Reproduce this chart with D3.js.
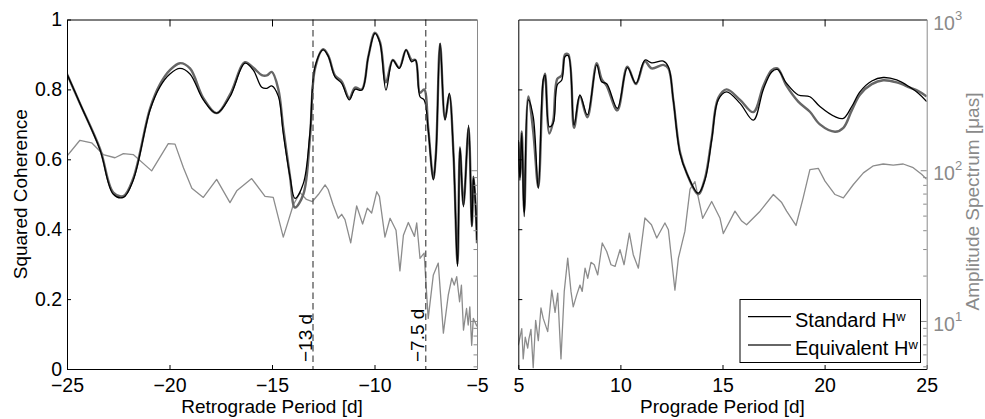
<!DOCTYPE html>
<html>
<head>
<meta charset="utf-8">
<script src="https://cdn.jsdelivr.net/npm/d3@7"></script>
<style>
  body { margin: 0; background: #fff; }
  svg { display: block; font-family: "Liberation Sans", Arial, Helvetica, sans-serif; }
</style>
</head>
<body>
<svg id="chart" width="985" height="419"></svg>
<script>
// ---- Retrograde band: squared coherence ----
const retroCohPeriod = [-25, -24.37, -23.39, -22.74, -22.25, -21.77, -20.95, -20.46, -19.98, -19.49, -19.0,
  -18.35, -17.7, -17.05, -16.32, -15.91, -15.5, -15.25, -15.01, -14.69, -14.45, -14.12, -13.88, -13.47,
  -13.15, -12.9, -12.5, -12.25, -11.93, -11.6, -11.23, -10.95, -10.62, -10.3, -9.98, -9.73, -9.44, -9.11,
  -8.79, -8.46, -8.19, -8.0, -7.78, -7.58, -7.38, -7.13, -7.0, -6.8, -6.56, -6.35, -6.15, -5.95, -5.83,
  -5.66, -5.41, -5.25, -5.17, -5.08, -5.0];
const retroStandard = [0.844, 0.76, 0.627, 0.50, 0.491, 0.54, 0.741, 0.808, 0.844, 0.86, 0.844,
  0.77, 0.732, 0.779, 0.875, 0.855, 0.806, 0.803, 0.81, 0.78, 0.674, 0.55, 0.488, 0.531,
  0.675, 0.865, 0.913, 0.894, 0.836, 0.817, 0.77, 0.80, 0.798, 0.894, 0.96, 0.932, 0.798, 0.884,
  0.86, 0.913, 0.879, 0.884, 0.779, 0.77, 0.684, 0.541, 0.617, 0.932, 0.712, 0.789, 0.617, 0.293, 0.636,
  0.464, 0.698, 0.407, 0.55, 0.48, 0.369];
const retroEquivalent = [0.844, 0.76, 0.63, 0.505, 0.495, 0.545, 0.745, 0.815, 0.855, 0.875, 0.86,
  0.775, 0.732, 0.785, 0.878, 0.862, 0.841, 0.84, 0.85, 0.80, 0.69, 0.55, 0.462, 0.50,
  0.66, 0.86, 0.915, 0.896, 0.84, 0.823, 0.775, 0.805, 0.80, 0.894, 0.962, 0.935, 0.82, 0.884,
  0.862, 0.913, 0.884, 0.884, 0.79, 0.80, 0.69, 0.545, 0.62, 0.93, 0.715, 0.785, 0.62, 0.30, 0.63,
  0.47, 0.69, 0.41, 0.55, 0.48, 0.36];

// ---- Retrograde band: amplitude spectrum [µas] ----
const retroSpecPeriod = [-25, -24.37, -23.8, -23.23, -22.66, -22.25, -21.77, -20.87, -20.06, -19.73, -19.32,
  -18.91, -18.35, -17.7, -17.05, -16.72, -15.99, -15.34, -14.94, -14.45, -13.96, -13.63, -13.32, -13.03,
  -12.74, -12.41, -12.26, -12.02, -11.77, -11.6, -11.44, -11.16, -10.87, -10.58, -10.35, -10.14, -9.89,
  -9.76, -9.49, -9.24, -8.95, -8.76, -8.59, -8.35, -8.05, -7.94, -7.78, -7.58, -7.38, -7.13, -6.89,
  -6.64, -6.4, -6.23, -6.11, -5.99, -5.85, -5.76, -5.66, -5.51, -5.43, -5.35, -5.26, -5.18, -5.0];
const retroSpectrum = [124, 158, 152, 127, 121, 129, 127, 99, 150, 149, 104,
  76, 66, 87, 61, 73, 88, 67, 66, 36, 59, 71, 64, 62,
  69, 80, 74.5, 59, 48, 51, 47, 33, 58, 44, 56, 52, 72,
  67, 36, 48, 40, 21.5, 37, 45, 36.4, 44.7, 26, 28.2, 10.4, 20.2, 24.2,
  8.3, 14.9, 19.2, 17.3, 19.7, 13.4, 17.3, 8.7, 12.1, 9.4, 12.4, 6.9, 10.4, 9.2];

// ---- Prograde band: squared coherence ----
const progCohPeriod = [5.0, 5.08, 5.17, 5.29, 5.49, 5.73, 5.98, 6.22, 6.31, 6.52, 6.71, 6.91, 7.13, 7.29,
  7.45, 7.73, 8.02, 8.38, 8.84, 9.08, 9.33, 9.85, 10.34, 10.76, 11.2, 11.53, 12.1, 12.35, 12.59,
  12.92, 13.25, 13.81, 14.14, 14.47, 14.79, 15.2, 15.86, 16.51, 17.0, 17.41, 17.69, 18.14, 18.71,
  19.28, 19.77, 20.51, 20.92, 21.33, 21.73, 22.31, 22.87, 23.53, 24.18, 24.59, 25.0];
const progStandard = [0.655, 0.54, 0.675, 0.436, 0.77, 0.722, 0.517, 0.827, 0.841, 0.693, 0.703, 0.813, 0.827, 0.894,
  0.896, 0.698, 0.784, 0.727, 0.87, 0.822, 0.816, 0.746, 0.862, 0.817, 0.884, 0.876, 0.881, 0.865, 0.77,
  0.617, 0.56, 0.503, 0.541, 0.655, 0.77, 0.793, 0.76, 0.712, 0.80, 0.85, 0.857, 0.817, 0.784,
  0.779, 0.751, 0.722, 0.717, 0.751, 0.793, 0.824, 0.834, 0.827, 0.806, 0.789, 0.765];
const progEquivalent = [0.65, 0.55, 0.68, 0.45, 0.78, 0.68, 0.52, 0.82, 0.845, 0.674, 0.71, 0.83, 0.84, 0.90,
  0.90, 0.69, 0.78, 0.72, 0.875, 0.83, 0.81, 0.74, 0.865, 0.815, 0.88, 0.86, 0.87, 0.86, 0.77,
  0.62, 0.56, 0.50, 0.545, 0.66, 0.775, 0.80, 0.77, 0.735, 0.81, 0.855, 0.86, 0.81, 0.765,
  0.736, 0.70, 0.679, 0.69, 0.74, 0.785, 0.815, 0.826, 0.82, 0.805, 0.795, 0.78];

// ---- Prograde band: amplitude spectrum [µas] ----
const progSpecPeriod = [5.0, 5.17, 5.24, 5.34, 5.46, 5.52, 5.62, 5.73, 5.85, 5.98, 6.11, 6.22, 6.44, 6.64,
  6.8, 6.93, 7.09, 7.25, 7.42, 7.58, 7.69, 7.86, 8.02, 8.13, 8.27, 8.4, 8.56, 8.72, 8.89, 9.11, 9.33,
  9.54, 9.74, 9.98, 10.18, 10.44, 10.63, 10.88, 11.2, 11.52, 11.78, 12.18, 12.35, 12.67, 12.84, 13.16,
  13.41, 13.65, 14.03, 14.47, 14.88, 15.04, 15.61, 15.94, 16.18, 16.84, 17.49, 17.9, 18.14, 18.6, 18.95,
  19.28, 19.69, 20.02, 20.51, 20.92, 21.41, 21.9, 22.39, 22.87, 23.36, 23.85, 24.34, 24.75, 25.0];
const progSpectrum = [6.9, 8.9, 5.6, 7.8, 6.6, 7.6, 8.8, 4.9, 10.1, 7.4, 12.2, 10.4, 8.5, 16,
  11.4, 15.3, 5.6, 15.7, 26.1, 15.7, 12.4, 14.9, 17.3, 15.7, 22.4, 19.2, 24.5, 23.6, 20.2, 32.9, 28.9,
  23.6, 23, 29.7, 23.6, 38.3, 27.5, 22.4, 48.2, 43.5, 35.5, 44.7, 40.3, 16.0, 26.1, 39.4,
  75, 84, 48, 62, 48, 38, 53.5, 46, 43.5, 53.5, 69, 61, 53.5, 43, 65.6,
  101, 103, 84.7, 69, 65.6, 80.4, 96, 107, 110, 108, 110, 104, 94, 87];

// ---- Axis ticks and labels ----
const cohTicks = [0, 0.2, 0.4, 0.6, 0.8, 1];
const retroTicks = [-25, -20, -15, -10, -5];
const progTicks = [5, 10, 15, 20, 25];
const ampMajorTicks = [10, 100, 1000];
const ampMinorTicks = [5, 6, 7, 8, 9, 20, 30, 40, 50, 60, 70, 80, 90];
const markerPeriods = [-13, -7.5];
const markerLabels = ["\u221213 d", "\u22127.5 d"];
const seriesNames = ["Standard H", "Equivalent H"];

const svg = d3.select("#chart");
const plotTop = 19.5, plotBottom = 369;
const cBlack = "#000", cEquiv = "#666", cSpec = "#8c8c8c", cAxisGray = "#8a8a8a";
const tickFont = "19.5px", labelFont = "19px";

const yCoh = d3.scaleLinear().domain([0, 1]).range([plotBottom, plotTop]);
const yAmp = d3.scaleLog().domain([4.8, 1000]).range([plotBottom, plotTop]);

const panels = [
  { key: "retro", x0: 67, x1: 477, domain: [-25, -5], ticks: retroTicks,
    cohX: retroCohPeriod, std: retroStandard, eq: retroEquivalent,
    specX: retroSpecPeriod, spec: retroSpectrum, leftLabels: true, rightLabels: false,
    title: "Retrograde Period [d]" },
  { key: "prog", x0: 518.3, x1: 926.7, domain: [5, 25], ticks: progTicks,
    cohX: progCohPeriod, std: progStandard, eq: progEquivalent,
    specX: progSpecPeriod, spec: progSpectrum, leftLabels: false, rightLabels: true,
    title: "Prograde Period [d]" }
];

const fmt = d3.format("~g");

panels.forEach(p => {
  const x = d3.scaleLinear().domain(p.domain).range([p.x0, p.x1]);
  const g = svg.append("g");

  g.append("clipPath").attr("id", "clip-" + p.key)
    .append("rect").attr("x", p.x0).attr("y", plotTop)
    .attr("width", p.x1 - p.x0).attr("height", plotBottom - plotTop);

  const plot = g.append("g").attr("clip-path", `url(#clip-${p.key})`);

  // amplitude spectrum (log axis on the right)
  const specLine = d3.line().x((d, i) => x(p.specX[i])).y(d => yAmp(d));
  plot.append("path").datum(p.spec)
    .attr("d", specLine).attr("fill", "none")
    .attr("stroke", cSpec).attr("stroke-width", 1.3).attr("stroke-linejoin", "round");

  // coherence curves
  const cohLine = d3.line().curve(d3.curveCatmullRom.alpha(0.5))
    .x((d, i) => x(p.cohX[i])).y(d => yCoh(d));
  plot.append("path").datum(p.eq)
    .attr("d", cohLine).attr("fill", "none")
    .attr("stroke", cEquiv).attr("stroke-width", 2.4).attr("stroke-linejoin", "round");
  plot.append("path").datum(p.std)
    .attr("d", cohLine).attr("fill", "none")
    .attr("stroke", cBlack).attr("stroke-width", 1.3).attr("stroke-linejoin", "round");

  // period markers (retrograde band only)
  if (p.key === "retro") {
    markerPeriods.forEach((mp, i) => {
      g.append("line").attr("x1", x(mp)).attr("x2", x(mp))
        .attr("y1", plotTop).attr("y2", plotBottom)
        .attr("stroke", "#555").attr("stroke-width", 1.3).attr("stroke-dasharray", "6.5,4");
      g.append("text")
        .attr("transform", `translate(${x(mp) - 1.5},${plotBottom - 7}) rotate(-90)`)
        .attr("font-size", "19px").attr("fill", "#000").text(markerLabels[i]);
    });
  }

  // bottom axis
  const bottomAxis = d3.axisBottom(x).tickValues(p.ticks).tickFormat(fmt)
    .tickSizeInner(-4).tickSizeOuter(0).tickPadding(9.5);
  const gb = g.append("g").attr("transform", `translate(0,${plotBottom})`).call(bottomAxis);
  gb.selectAll("text").attr("font-size", tickFont).attr("font-family", null).attr("fill", "#000");
  gb.select(".domain").attr("stroke", "#000");

  // top axis (ticks only)
  const topAxis = d3.axisTop(x).tickValues(p.ticks.slice(1, -1)).tickFormat("")
    .tickSizeInner(-7).tickSizeOuter(0);
  g.append("g").attr("transform", `translate(0,${plotTop})`).call(topAxis)
    .select(".domain").attr("stroke", "#000");

  // left coherence axis
  const leftAxis = d3.axisLeft(yCoh).tickValues(p.leftLabels ? cohTicks : cohTicks.slice(1, -1))
    .tickFormat(p.leftLabels ? fmt : "").tickSizeInner(-4).tickSizeOuter(0).tickPadding(5);
  const gl = g.append("g").attr("transform", `translate(${p.x0},0)`).call(leftAxis);
  gl.selectAll("text").attr("font-size", tickFont).attr("font-family", null).attr("fill", "#000");
  gl.select(".domain").attr("stroke", "#000");

  // right amplitude axis (log)
  const rightMajor = d3.axisRight(yAmp).tickValues(ampMajorTicks).tickFormat("")
    .tickSizeInner(-6).tickSizeOuter(0);
  const gr = g.append("g").attr("transform", `translate(${p.x1},0)`).call(rightMajor);
  gr.selectAll("line").attr("stroke", cAxisGray);
  gr.select(".domain").attr("stroke", cAxisGray);
  const rightMinor = d3.axisRight(yAmp).tickValues(ampMinorTicks).tickFormat("")
    .tickSizeInner(-3.5).tickSizeOuter(0);
  const grm = g.append("g").attr("transform", `translate(${p.x1},0)`).call(rightMinor);
  grm.selectAll("line").attr("stroke", cAxisGray);
  grm.select(".domain").remove();

  if (p.rightLabels) {
    ampMajorTicks.forEach(v => {
      const t = g.append("text").attr("x", p.x1 + 6.5).attr("y", yAmp(v) + 10)
        .attr("font-size", tickFont).attr("fill", cAxisGray);
      t.append("tspan").text("10");
      t.append("tspan").attr("font-size", "13px").attr("dy", -10).text(Math.round(Math.log10(v)));
    });
  }

  // x axis title
  g.append("text").attr("x", (p.x0 + p.x1) / 2).attr("y", 412.5)
    .attr("text-anchor", "middle").attr("font-size", labelFont).attr("fill", "#000")
    .text(p.title);

  // legend (prograde panel)
  if (p.key === "prog") {
    const lg = g.append("g");
    lg.append("rect").attr("x", 740).attr("y", 299.5).attr("width", 180.5).attr("height", 63)
      .attr("fill", "#fff").attr("stroke", "#000").attr("stroke-width", 1);
    const rows = [
      { y: 316.7, color: cBlack, w: 1.2 },
      { y: 345, color: cEquiv, w: 2.2 }
    ];
    rows.forEach((r, i) => {
      lg.append("line").attr("x1", 748).attr("x2", 791).attr("y1", r.y).attr("y2", r.y)
        .attr("stroke", r.color).attr("stroke-width", r.w);
      const t = lg.append("text").attr("x", 795).attr("y", r.y + 10)
        .attr("font-size", "20px").attr("fill", "#000");
      t.append("tspan").text(seriesNames[i]);
      t.append("tspan").attr("font-size", "13px").attr("dy", -6).text("w");
    });
  }
});

// y axis titles
svg.append("text")
  .attr("transform", `translate(26.5,${(plotTop + plotBottom) / 2}) rotate(-90)`)
  .attr("text-anchor", "middle").attr("font-size", labelFont).attr("fill", "#000")
  .text("Squared Coherence");
svg.append("text")
  .attr("transform", `translate(979,201.5) rotate(-90)`)
  .attr("text-anchor", "middle").attr("font-size", labelFont).attr("fill", cAxisGray)
  .text("Amplitude Spectrum [\u03bcas]");
</script>
</body>
</html>
